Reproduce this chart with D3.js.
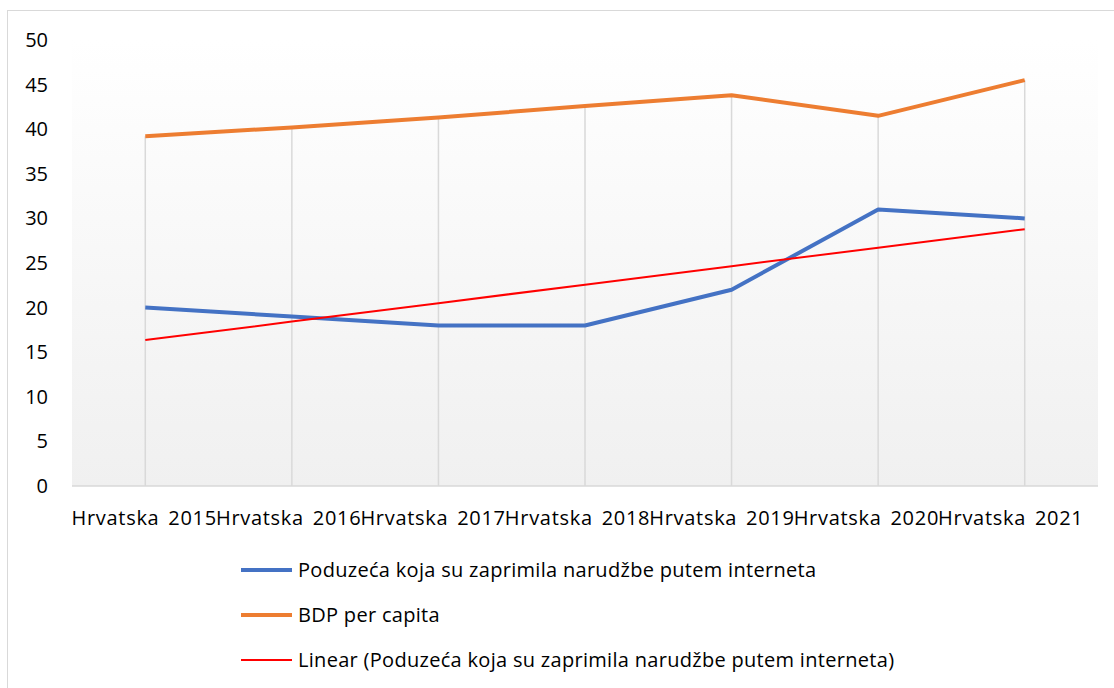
<!DOCTYPE html>
<html>
<head>
<meta charset="utf-8">
<script src="https://cdn.jsdelivr.net/npm/d3@7"></script>
<style>
  html, body { margin: 0; padding: 0; background: #fff; }
  svg { display: block; }
  text { font-family: "Open Sans", sans-serif; fill: #000; }
</style>
</head>
<body>
<div id="chart"></div>
<script>
var years = ["Hrvatska 2015", "Hrvatska 2016", "Hrvatska 2017", "Hrvatska 2018",
             "Hrvatska 2019", "Hrvatska 2020", "Hrvatska 2021"];
var orders = [20, 19, 18, 18, 22, 31, 30];
var bdp = [39.2, 40.2, 41.3, 42.6, 43.8, 41.5, 45.5];
var yTicks = [0, 5, 10, 15, 20, 25, 30, 35, 40, 45, 50];
var legendLabels = ["Poduzeća koja su zaprimila narudžbe putem interneta",
                    "BDP per capita",
                    "Linear (Poduzeća koja su zaprimila narudžbe putem interneta)"];

var width = 1114, height = 688;
var margin = { top: 40, left: 72, right: 16, bottom: 202 };
var colors = ["#4472c4", "#ed7d31", "#ff0000"];

var svg = d3.select("#chart").append("svg")
    .attr("width", width)
    .attr("height", height);

// outer frame (only top and left show in the picture)
svg.append("rect")
    .attr("x", 7.5).attr("y", 10.5)
    .attr("width", width + 20).attr("height", height + 20)
    .attr("fill", "#fff")
    .attr("stroke", "#d9d9d9");

var defs = svg.append("defs");
var grad = defs.append("linearGradient")
    .attr("id", "plotbg").attr("x1", 0).attr("y1", 0).attr("x2", 0).attr("y2", 1);
grad.append("stop").attr("offset", "0%").attr("stop-color", "#ffffff");
grad.append("stop").attr("offset", "100%").attr("stop-color", "#f0f0f0");

var x = d3.scaleBand()
    .domain(years)
    .range([margin.left, width - margin.right]);

// category labels are packed side by side, slightly narrower than the plot
var xLabel = d3.scaleBand()
    .domain(years)
    .range([margin.left, 1083]);

var y = d3.scaleLinear()
    .domain([0, 50])
    .range([height - margin.bottom, margin.top]);

var cx = function(d) { return x(d) + x.bandwidth() / 2; };

svg.append("rect")
    .attr("x", x.range()[0]).attr("y", y(50))
    .attr("width", x.range()[1] - x.range()[0])
    .attr("height", y(0) - y(50))
    .attr("fill", "url(#plotbg)");

// linear trendline (least squares over category index)
var mx = d3.mean(orders, function(d, i) { return i; });
var my = d3.mean(orders);
var sxy = d3.sum(orders, function(d, i) { return (i - mx) * (d - my); });
var sxx = d3.sum(orders, function(d, i) { return (i - mx) * (i - mx); });
var slope = sxy / sxx;
var trend = years.map(function(d, i) { return my + slope * (i - mx); });

// drop lines from the highest point down to the axis
svg.append("g").selectAll("line")
    .data(years)
    .enter().append("line")
        .attr("x1", cx).attr("x2", cx)
        .attr("y1", function(d, i) { return y(Math.max(orders[i], bdp[i])); })
        .attr("y2", y(0))
        .attr("stroke", "#d9d9d9")
        .attr("stroke-width", 1.5);

// x axis line
svg.append("line")
    .attr("x1", x.range()[0]).attr("x2", x.range()[1])
    .attr("y1", y(0)).attr("y2", y(0))
    .attr("stroke", "#d9d9d9")
    .attr("stroke-width", 1.5);

// y tick labels
svg.append("g").selectAll("text")
    .data(yTicks)
    .enter().append("text")
        .attr("x", 48)
        .attr("y", function(d) { return y(d); })
        .attr("dy", "0.35em")
        .attr("text-anchor", "end")
        .style("font-size", "20px")
        .text(function(d) { return d; });

// x labels
svg.append("g").selectAll("text")
    .data(years)
    .enter().append("text")
        .attr("x", function(d) { return xLabel(d) + xLabel.bandwidth() / 2; })
        .attr("y", 525)
        .attr("text-anchor", "middle")
        .style("font-size", "20px")
        .style("letter-spacing", "0.7px")
        .style("word-spacing", "3px")
        .text(function(d) { return d; });

var line = d3.line()
    .x(function(d, i) { return cx(years[i]); })
    .y(function(d) { return y(d); });

svg.append("path").datum(bdp)
    .attr("d", line).attr("fill", "none")
    .attr("stroke", colors[1]).attr("stroke-width", 4).attr("stroke-linejoin", "round");

svg.append("path").datum(orders)
    .attr("d", line).attr("fill", "none")
    .attr("stroke", colors[0]).attr("stroke-width", 4).attr("stroke-linejoin", "round");

svg.append("path").datum(trend)
    .attr("d", line).attr("fill", "none")
    .attr("stroke", colors[2]).attr("stroke-width", 2);

// legend
var legend = svg.append("g").selectAll("g")
    .data(legendLabels)
    .enter().append("g")
        .attr("transform", function(d, i) { return "translate(241," + (570 + i * 45) + ")"; });

legend.append("line")
    .attr("x1", 0).attr("x2", 51)
    .attr("stroke", function(d, i) { return colors[i]; })
    .attr("stroke-width", function(d, i) { return i == 2 ? 2 : 4; });

legend.append("text")
    .attr("x", 57)
    .attr("dy", "0.35em")
    .style("font-size", "20px")
    .style("letter-spacing", "0.3px")
    .text(function(d) { return d; });
</script>
</body>
</html>
